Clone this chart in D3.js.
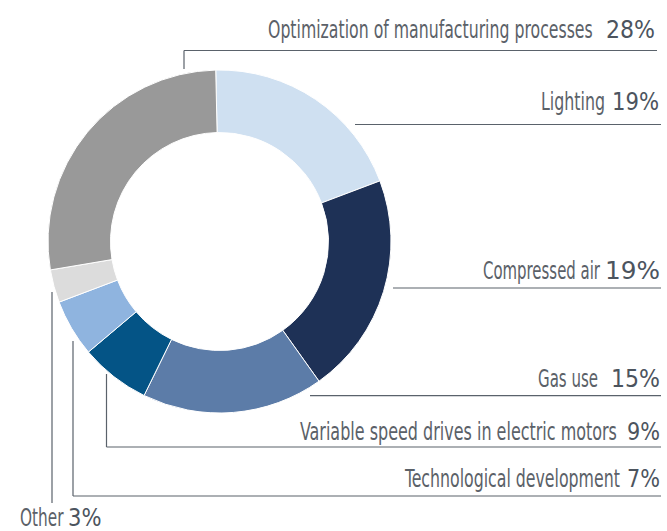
<!DOCTYPE html>
<html>
<head>
<meta charset="utf-8">
<script src="https://cdn.jsdelivr.net/npm/d3@7"></script>
<style>
  html, body { margin: 0; padding: 0; background: #fff; }
  svg { display: block; }
  text { font-family: "Liberation Sans Narrow", "DejaVu Sans Condensed", "Roboto", sans-serif; }
</style>
</head>
<body>
<svg id="chart" width="667" height="531"></svg>
<script>
// ---- data ----
const categories = ["Lighting", "Compressed air", "Gas use", "Variable speed drives in electric motors", "Technological development", "Other", "Optimization of manufacturing processes"];
// slice shares as drawn in the picture (%)
const sliceValues = [19.6, 20.9, 17.1, 6.6, 5.4, 3.1, 27.3];
// printed labels
const labelPercents = ["19%", "19%", "15%", "9%", "7%", "3%", "28%"];
const colors = ["#cfe0f1", "#1e3156", "#5c7ca8", "#045486", "#8fb4df", "#dcdcdc", "#999999"];

// ---- layout ----
const cx = 219.5, cy = 241.5, outerR = 171.5, innerR = 109;
const startAngle = -0.022;
// label layout: [labelStart, labelEnd, pctStart, pctEnd, baseline, lineY, lineX0, lineX1, verticalX or null, verticalY0]
const labelLayout = [
  [541, 605, 612, 659, 110, 124.5, 355, 661, null, null],
  [483, 600, 605, 660, 279, 288, 393, 661, null, null],
  [538, 598, 611, 660, 386.5, 395.7, 310, 661, null, null],
  [300, 617, 627, 660, 440, 447, 106.5, 661, 106.5, 374],
  [405, 620, 627, 660, 486.5, 496, 73, 661, 73, 341],
  [20, 63.5, 68, 101.5, 526, null, null, null, 52, 292],
  [268, 593, 606, 655, 38, 50.5, 184, 657, 184, 69]
];
const otherVerticalEnd = 503;

const svg = d3.select("#chart");

const pie = d3.pie().sort(null).value(d => d)
  .startAngle(startAngle).endAngle(startAngle + 2 * Math.PI);
const arc = d3.arc().innerRadius(innerR).outerRadius(outerR);

svg.append("g")
  .attr("transform", `translate(${cx},${cy})`)
  .selectAll("path")
  .data(pie(sliceValues))
  .join("path")
  .attr("d", arc)
  .attr("fill", (d, i) => colors[i])
  .attr("stroke", "#ffffff")
  .attr("stroke-width", 1);

const lineColor = "#5a626b";
const g = svg.append("g");

function fittedText(parent, str, x0, x1, y, size, fill) {
  const holder = parent.append("g");
  const t = holder.append("text")
    .attr("x", 0).attr("y", 0)
    .attr("font-size", size)
    .attr("fill", fill)
    .text(str);
  const natural = t.node().getComputedTextLength();
  const sx = (x1 - x0) / natural;
  holder.attr("transform", `translate(${x0},${y}) scale(${sx},1)`);
}

categories.forEach((cat, i) => {
  const [ls, le, ps, pe, by, ly, lx0, lx1, vx, vy0] = labelLayout[i];
  if (vx !== null) {
    const vy1 = ly !== null ? ly : otherVerticalEnd;
    g.append("line").attr("x1", vx).attr("x2", vx).attr("y1", vy0).attr("y2", vy1)
      .attr("stroke", lineColor).attr("stroke-width", 1.2);
  }
  if (ly !== null) {
    g.append("line").attr("x1", lx0).attr("x2", lx1).attr("y1", ly).attr("y2", ly)
      .attr("stroke", lineColor).attr("stroke-width", 1.2);
  }
  fittedText(g, cat, ls, le, by, 25, "#5b6168");
  fittedText(g, labelPercents[i], ps, pe, by, 25, "#4c545e");
});
</script>
</body>
</html>
